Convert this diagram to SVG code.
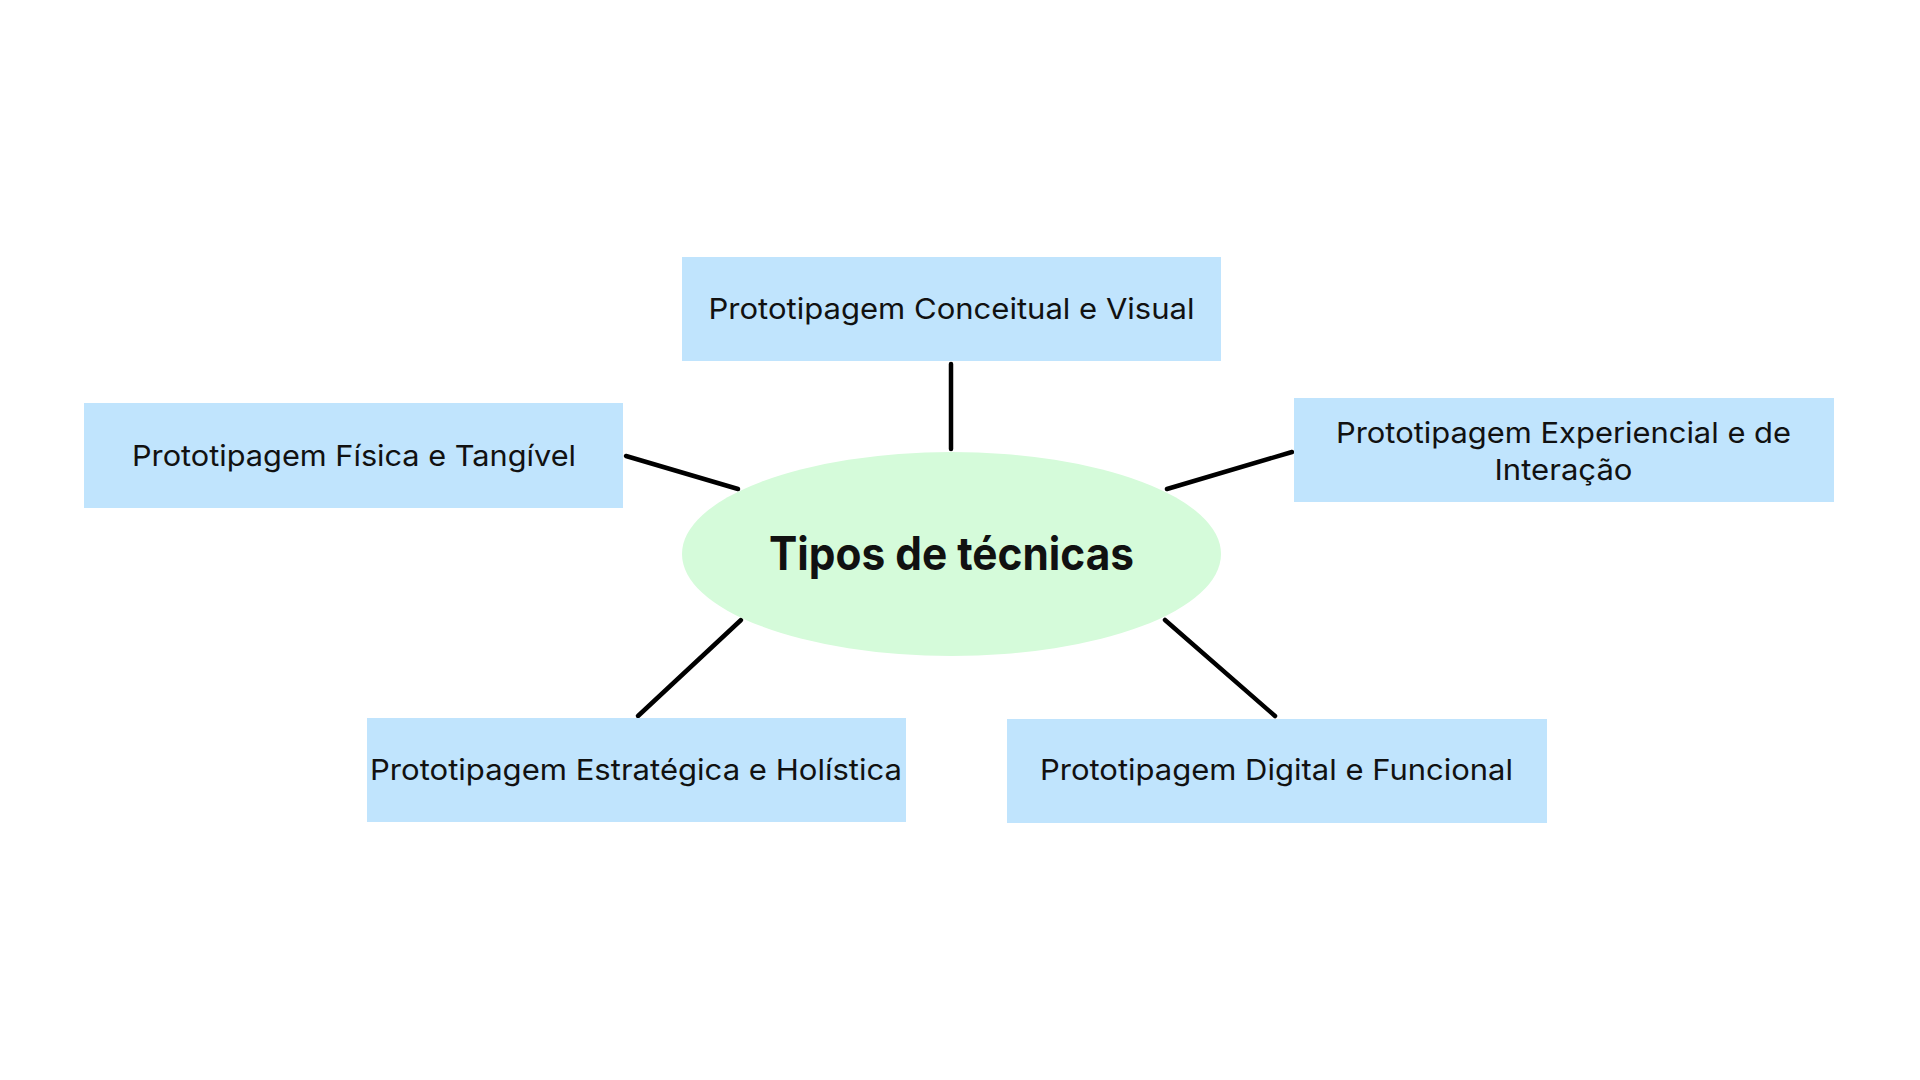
<svg xmlns="http://www.w3.org/2000/svg" width="1920" height="1080" viewBox="0 0 1920 1080">
<style>
.box{fill:#C0E4FD;}
.hub{fill:#D5FBDA;}
.lbl{font-family:Inter,"Open Sans","DejaVu Sans",sans-serif;font-size:29px;fill:#111111;text-anchor:middle;}
.ttl{font-family:Inter,"Open Sans","DejaVu Sans",sans-serif;font-size:46px;font-weight:700;fill:#111111;text-anchor:middle;}
.conn line{stroke:#000000;stroke-width:4.5;stroke-linecap:round;}
</style>
<rect width="1920" height="1080" fill="#FFFFFF"/>
<g id="connectors" class="conn">
<line x1="951" y1="364" x2="951" y2="449"/>
<line x1="626" y1="456" x2="738" y2="489"/>
<line x1="1167" y1="489" x2="1292" y2="452"/>
<line x1="741" y1="620" x2="638" y2="716"/>
<line x1="1165" y1="620" x2="1275" y2="716"/>
</g>
<g id="center">
<ellipse class="hub" cx="951.5" cy="554" rx="269.5" ry="102"/>
<text class="ttl" x="951.5" y="570" textLength="365" lengthAdjust="spacingAndGlyphs">Tipos de técnicas</text>
</g>
<g id="conceitual">
<rect class="box" x="682" y="257" width="539" height="104"/>
<text class="lbl" x="951.5" y="319" textLength="486" lengthAdjust="spacingAndGlyphs">Prototipagem Conceitual e Visual</text>
</g>
<g id="fisica">
<rect class="box" x="84" y="403" width="539" height="105"/>
<text class="lbl" x="354" y="466" textLength="444" lengthAdjust="spacingAndGlyphs">Prototipagem Física e Tangível</text>
</g>
<g id="experiencial">
<rect class="box" x="1294" y="398" width="540" height="104"/>
<text class="lbl" x="1563.5" y="443" textLength="455" lengthAdjust="spacingAndGlyphs">Prototipagem Experiencial e de</text>
<text class="lbl" x="1563.5" y="480" textLength="138" lengthAdjust="spacingAndGlyphs">Interação</text>
</g>
<g id="estrategica">
<rect class="box" x="367" y="718" width="539" height="104"/>
<text class="lbl" x="636" y="780" textLength="532" lengthAdjust="spacingAndGlyphs">Prototipagem Estratégica e Holística</text>
</g>
<g id="digital">
<rect class="box" x="1007" y="719" width="540" height="104"/>
<text class="lbl" x="1276.5" y="780" textLength="473" lengthAdjust="spacingAndGlyphs">Prototipagem Digital e Funcional</text>
</g>
</svg>
